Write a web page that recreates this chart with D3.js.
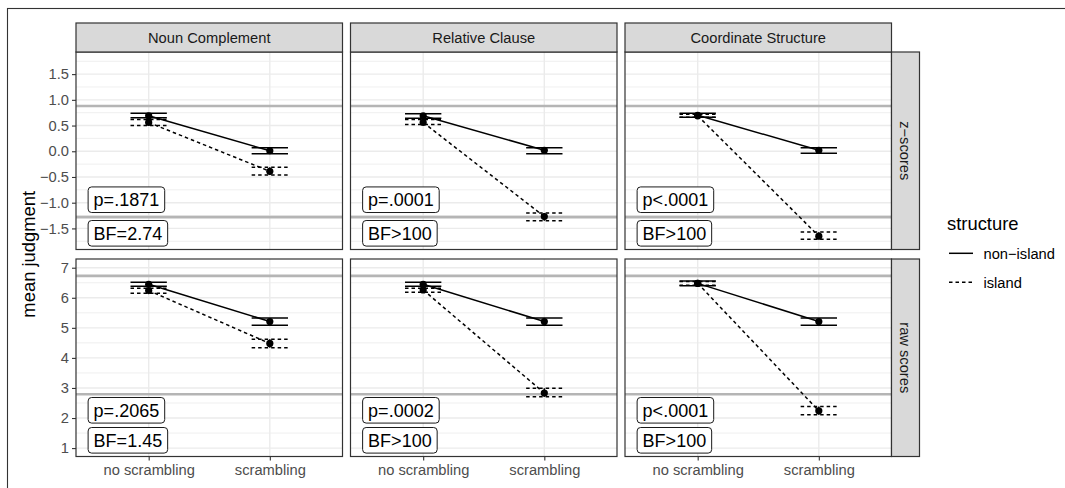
<!DOCTYPE html>
<html>
<head>
<meta charset="utf-8">
<script src="https://cdn.jsdelivr.net/npm/d3@7"></script>
<style>
  body { margin: 0; background: #fff; }
  svg { font-family: "Liberation Sans", Arial, sans-serif; }
</style>
</head>
<body>
<div class="chart-container"></div>
<script>
//! DATA
const structures = ['Noun Complement', 'Relative Clause', 'Coordinate Structure'];
const scoreTypes = ['z\u2212scores', 'raw scores'];
const conditions = ['no scrambling', 'scrambling'];
const groups = ['non\u2212island', 'island'];

// z-scores: [structure][condition]
const zNonIslandMean = [[0.69, 0.01], [0.69, 0.02], [0.70, 0.02]];
const zNonIslandLow  = [[0.65, -0.05], [0.64, -0.05], [0.66, -0.04]];
const zNonIslandHigh = [[0.74, 0.07], [0.73, 0.07], [0.74, 0.07]];
const zIslandMean = [[0.56, -0.39], [0.56, -1.27], [0.69, -1.65]];
const zIslandLow  = [[0.50, -0.46], [0.52, -1.35], [0.66, -1.71]];
const zIslandHigh = [[0.62, -0.31], [0.62, -1.20], [0.72, -1.57]];

// raw scores
const rawNonIslandMean = [[6.45, 5.21], [6.45, 5.21], [6.48, 5.21]];
const rawNonIslandLow  = [[6.38, 5.09], [6.38, 5.09], [6.40, 5.09]];
const rawNonIslandHigh = [[6.52, 5.33], [6.52, 5.33], [6.56, 5.33]];
const rawIslandMean = [[6.24, 4.48], [6.26, 2.83], [6.48, 2.24]];
const rawIslandLow  = [[6.15, 4.34], [6.18, 2.71], [6.42, 2.11]];
const rawIslandHigh = [[6.32, 4.62], [6.32, 2.99], [6.54, 2.38]];

const zRefLines = [0.88, -1.28];
const rawRefLines = [6.73, 2.79];

const zTicks = [-1.5, -1.0, -0.5, 0.0, 0.5, 1.0, 1.5];
const rawTicks = [1, 2, 3, 4, 5, 6, 7];
const zDomain = [-1.91, 1.93];
const rawDomain = [0.72, 7.29];

const zPLabels = ['p=.1871', 'p=.0001', 'p<.0001'];
const zBFLabels = ['BF=2.74', 'BF>100', 'BF>100'];
const rawPLabels = ['p=.2065', 'p=.0002', 'p<.0001'];
const rawBFLabels = ['BF=1.45', 'BF>100', 'BF>100'];

//! CONSTS
const width = 1065;
const height = 488;
const colLeft = [76, 350.5, 625];
const panelW = 266.5;
const rowTop = [52, 259];
const panelH = 197.5;
const stripTop = 23;
const stripRight = 28;
const small = 14.7;
const big = 18.4;

const rows = [
  {
    domain: zDomain, ticks: zTicks, refs: zRefLines,
    pLab: zPLabels, bfLab: zBFLabels, pFrac: 0.748, bfFrac: 0.918,
    series: [
      { mean: zNonIslandMean, lo: zNonIslandLow, hi: zNonIslandHigh, dash: null },
      { mean: zIslandMean, lo: zIslandLow, hi: zIslandHigh, dash: '3.5,3' }
    ]
  },
  {
    domain: rawDomain, ticks: rawTicks, refs: rawRefLines,
    pLab: rawPLabels, bfLab: rawBFLabels, pFrac: 0.766, bfFrac: 0.918,
    series: [
      { mean: rawNonIslandMean, lo: rawNonIslandLow, hi: rawNonIslandHigh, dash: null },
      { mean: rawIslandMean, lo: rawIslandLow, hi: rawIslandHigh, dash: '3.5,3' }
    ]
  }
];

//! SVG
const svg = d3.select('.chart-container')
  .append('svg')
  .attr('width', width)
  .attr('height', height);

// outer frame (partly cropped)
svg.append('rect')
  .attr('x', 7.5).attr('y', 8.5)
  .attr('width', width + 20).attr('height', height + 20)
  .attr('fill', 'none')
  .attr('stroke', '#333')
  .attr('stroke-width', 1.1);

const x = d3.scalePoint().domain(conditions).range([0, panelW]).padding(0.6);
const step = x.step();

rows.forEach((row, r) => {
  const y = d3.scaleLinear().domain(row.domain).range([panelH, 0]);
  const minor = row.ticks.slice(1).map((t, i) => (t + row.ticks[i]) / 2);
  minor.push(row.ticks[0] - (row.ticks[1] - row.ticks[0]) / 2);
  minor.push(row.ticks[row.ticks.length - 1] + (row.ticks[1] - row.ticks[0]) / 2);

  structures.forEach((s, c) => {
    const g = svg.append('g')
      .attr('transform', `translate(${colLeft[c]},${rowTop[r]})`);

    // background + grid
    g.append('rect').attr('width', panelW).attr('height', panelH).attr('fill', '#fff');
    g.selectAll('.minor')
      .data(minor.filter(v => v > row.domain[0] && v < row.domain[1]))
      .enter().append('line')
      .attr('x1', 0).attr('x2', panelW)
      .attr('y1', d => y(d)).attr('y2', d => y(d))
      .attr('stroke', '#EBEBEB').attr('stroke-width', 0.8);
    g.selectAll('.major')
      .data(row.ticks)
      .enter().append('line')
      .attr('x1', 0).attr('x2', panelW)
      .attr('y1', d => y(d)).attr('y2', d => y(d))
      .attr('stroke', '#EBEBEB').attr('stroke-width', 1.4);
    g.selectAll('.vgrid')
      .data(conditions)
      .enter().append('line')
      .attr('x1', d => x(d)).attr('x2', d => x(d))
      .attr('y1', 0).attr('y2', panelH)
      .attr('stroke', '#EBEBEB').attr('stroke-width', 1.4);

    // reference lines
    g.selectAll('.ref')
      .data(row.refs)
      .enter().append('line')
      .attr('x1', 0).attr('x2', panelW)
      .attr('y1', d => y(d)).attr('y2', d => y(d))
      .attr('stroke', '#B5B5B5').attr('stroke-width', 2.6);

    // series
    row.series.forEach(se => {
      const pts = conditions.map((cond, k) => ({
        cond, m: se.mean[c][k], lo: se.lo[c][k], hi: se.hi[c][k]
      }));
      g.append('path')
        .datum(pts)
        .attr('d', d3.line().x(d => x(d.cond)).y(d => y(d.m)))
        .attr('fill', 'none')
        .attr('stroke', '#000')
        .attr('stroke-width', 1.5)
        .attr('stroke-dasharray', se.dash);

      const eb = g.selectAll(null).data(pts).enter().append('g');
      ['lo', 'hi'].forEach(key => {
        eb.append('line')
          .attr('x1', d => x(d.cond) - step * 0.15)
          .attr('x2', d => x(d.cond) + step * 0.15)
          .attr('y1', d => y(d[key])).attr('y2', d => y(d[key]))
          .attr('stroke', '#000').attr('stroke-width', 1.5)
          .attr('stroke-dasharray', se.dash);
      });
      eb.append('line')
        .attr('x1', d => x(d.cond)).attr('x2', d => x(d.cond))
        .attr('y1', d => y(d.lo)).attr('y2', d => y(d.hi))
        .attr('stroke', '#000').attr('stroke-width', 1.5)
        .attr('stroke-dasharray', se.dash);
      eb.append('circle')
        .attr('cx', d => x(d.cond)).attr('cy', d => y(d.m))
        .attr('r', 3.6).attr('fill', '#000');
    });

    // labels
    const labelX = x(conditions[0]) - step * 0.5;
    [[row.pLab[c], row.pFrac], [row.bfLab[c], row.bfFrac]].forEach(([txt, frac]) => {
      const lg = g.append('g').attr('transform', `translate(${labelX},${panelH * frac})`);
      const box = lg.append('rect');
      const t = lg.append('text')
        .attr('x', 5.5).attr('dy', '0.36em')
        .attr('font-size', 18).attr('fill', '#000')
        .text(txt);
      const tw = t.node().getComputedTextLength();
      box.attr('x', 0).attr('y', -12.8)
        .attr('width', tw + 11).attr('height', 25.6)
        .attr('rx', 3.5).attr('ry', 3.5)
        .attr('fill', '#fff').attr('stroke', '#1A1A1A').attr('stroke-width', 1);
    });

    // panel border
    g.append('rect').attr('width', panelW).attr('height', panelH)
      .attr('fill', 'none').attr('stroke', '#333').attr('stroke-width', 1.2);

    // y axis on first column
    if (c === 0) {
      const yAxis = d3.axisLeft(y).tickValues(row.ticks).tickSize(4).tickPadding(3)
        .tickFormat(row.ticks[0] % 1 === 0 && r === 1 ? d3.format('d') : d3.format('.1f'));
      const ax = g.append('g').call(yAxis);
      ax.select('.domain').remove();
      ax.selectAll('line').attr('stroke', '#333').attr('stroke-width', 1.1);
      ax.selectAll('text').attr('fill', '#4D4D4D').attr('font-size', small)
        .attr('font-family', '"Liberation Sans", Arial, sans-serif')
        .text(d => (d < 0 ? '\u2212' + d3.format(r === 1 ? 'd' : '.1f')(-d) : d3.format(r === 1 ? 'd' : '.1f')(d)));
    }

    // x axis on bottom row
    if (r === rows.length - 1) {
      const xAxis = d3.axisBottom(x).tickSize(4).tickPadding(4);
      const ax = g.append('g').attr('transform', `translate(0,${panelH})`).call(xAxis);
      ax.select('.domain').remove();
      ax.selectAll('line').attr('stroke', '#333').attr('stroke-width', 1.1);
      ax.selectAll('text').attr('fill', '#4D4D4D').attr('font-size', small)
        .attr('font-family', '"Liberation Sans", Arial, sans-serif');
    }

    // top strips
    if (r === 0) {
      svg.append('rect')
        .attr('x', colLeft[c]).attr('y', stripTop)
        .attr('width', panelW).attr('height', rowTop[0] - stripTop)
        .attr('fill', '#D9D9D9').attr('stroke', '#333').attr('stroke-width', 1.2);
      svg.append('text')
        .attr('x', colLeft[c] + panelW / 2).attr('y', (stripTop + rowTop[0]) / 2)
        .attr('dy', '0.36em').attr('text-anchor', 'middle')
        .attr('font-size', small).attr('fill', '#1A1A1A')
        .text(s);
    }
  });

  // right strip
  const sx = colLeft[2] + panelW;
  svg.append('rect')
    .attr('x', sx).attr('y', rowTop[r])
    .attr('width', stripRight).attr('height', panelH)
    .attr('fill', '#D9D9D9').attr('stroke', '#333').attr('stroke-width', 1.2);
  svg.append('text')
    .attr('transform', `translate(${sx + stripRight / 2},${rowTop[r] + panelH / 2}) rotate(90)`)
    .attr('dy', '0.36em').attr('text-anchor', 'middle')
    .attr('font-size', small).attr('fill', '#1A1A1A')
    .text(scoreTypes[r]);
});

//! AXIS TITLE
svg.append('text')
  .attr('transform', `translate(28,${(rowTop[0] + rowTop[1] + panelH) / 2}) rotate(-90)`)
  .attr('dy', '0.36em').attr('text-anchor', 'middle')
  .attr('font-size', big).attr('fill', '#000')
  .text('mean judgment');

//! LEGEND
const legend = svg.append('g').attr('transform', 'translate(947,0)');
legend.append('text')
  .attr('x', 0).attr('y', 229.5)
  .attr('font-size', big).attr('fill', '#000')
  .text('structure');
const legendDash = [null, '3.5,3'];
groups.forEach((gname, i) => {
  const ly = 253.3 + i * 29;
  legend.append('line')
    .attr('x1', 2).attr('x2', 26)
    .attr('y1', ly).attr('y2', ly)
    .attr('stroke', '#000').attr('stroke-width', 1.5)
    .attr('stroke-dasharray', legendDash[i]);
  legend.append('text')
    .attr('x', 36.5).attr('y', ly).attr('dy', '0.36em')
    .attr('font-size', small).attr('fill', '#000')
    .text(gname);
});
</script>
</body>
</html>
